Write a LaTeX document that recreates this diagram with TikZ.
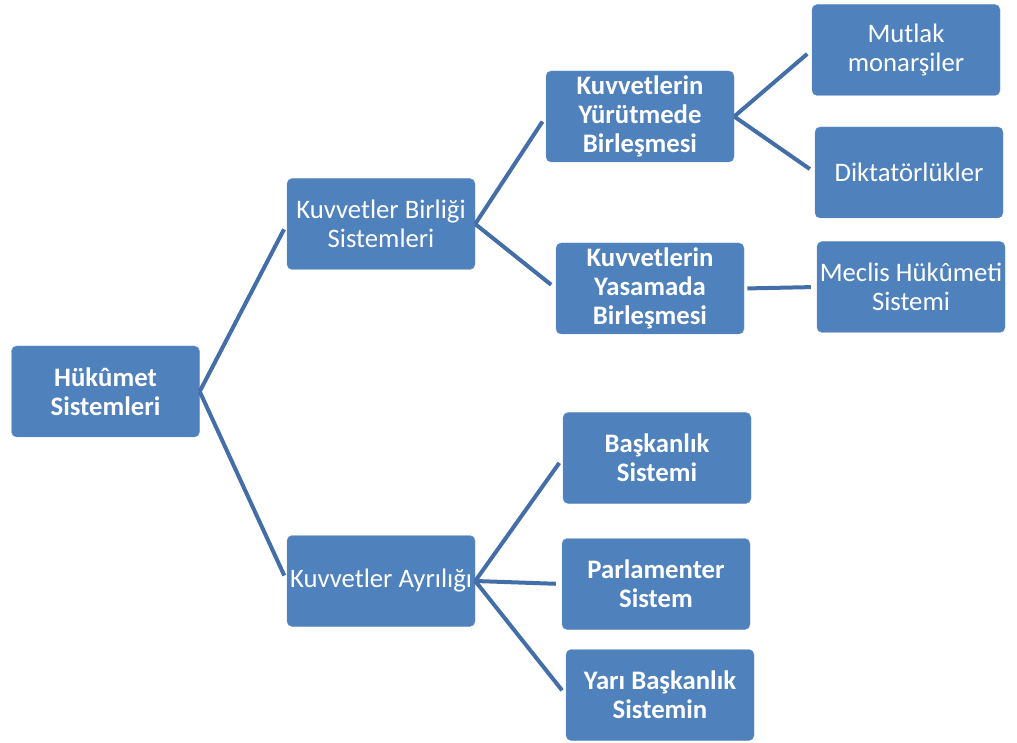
\documentclass[tikz,border=0pt]{standalone}
\usepackage{fontspec}
\setmainfont{Carlito}
\usepackage{tikz}
\usepackage{xcolor}

\definecolor{boxblue}{RGB}{79,129,189}
\definecolor{lineblue}{RGB}{68,110,168}

\begin{document}
\begin{tikzpicture}[
  kutu/.style={draw=boxblue!85!white, line width=0.3pt, fill=boxblue, rounded corners=0.13cm,
    minimum width=4.7cm, minimum height=2.275cm, align=center, text=white,
    font=\fontsize{19}{20.8}\selectfont, inner sep=0pt},
  kalin/.style={kutu, font=\fontsize{19}{20.8}\selectfont\bfseries},
  bag/.style={lineblue, line width=0.1cm, shorten >=0.15cm}
]

\useasboundingbox (0,0) rectangle (25.425,18.55);

% kutular
\node[kalin] (hukumet) at (2.6375,8.7625) {Hükûmet\\Sistemleri};

\node[kutu] (birlik) at (9.525,12.95) {Kuvvetler Birliği\\Sistemleri};
\node[kutu] (ayrilik) at (9.525,4.025) {Kuvvetler Ayrılığı};

\node[kalin] (yurutme) at (16.0,15.6375) {Kuvvetlerin\\Yürütmede\\Birleşmesi};
\node[kalin] (yasama) at (16.25,11.3375) {Kuvvetlerin\\Yasamada\\Birleşmesi};

\node[kutu] (mutlak) at (22.65,17.3) {Mutlak\\monarşiler};
\node[kutu] (diktator) at (22.725,14.2375) {Diktatörlükler};
\node[kutu] (meclis) at (22.775,11.375) {Meclis Hükûmeti\\Sistemi};

\node[kalin] (baskanlik) at (16.425,7.1) {Başkanlık\\Sistemi};
\node[kalin] (parlamenter) at (16.4,3.95) {Parlamenter\\Sistem};
\node[kalin] (yari) at (16.5,1.175) {Yarı Başkanlık\\Sistemin};

% baglantilar
\draw[bag] (hukumet.east) -- (birlik.west);
\draw[bag] (hukumet.east) -- (ayrilik.west);

\draw[bag] (birlik.east) -- (yurutme.west);
\draw[bag] (birlik.east) -- (yasama.west);

\draw[bag] (yurutme.east) -- (mutlak.west);
\draw[bag] (yurutme.east) -- (diktator.west);
\draw[bag, shorten <=0.08cm] (yasama.east) -- (meclis.west);

\draw[bag] (ayrilik.east) -- (baskanlik.west);
\draw[bag] (ayrilik.east) -- (parlamenter.west);
\draw[bag] (ayrilik.east) -- (yari.west);

\end{tikzpicture}
\end{document}
